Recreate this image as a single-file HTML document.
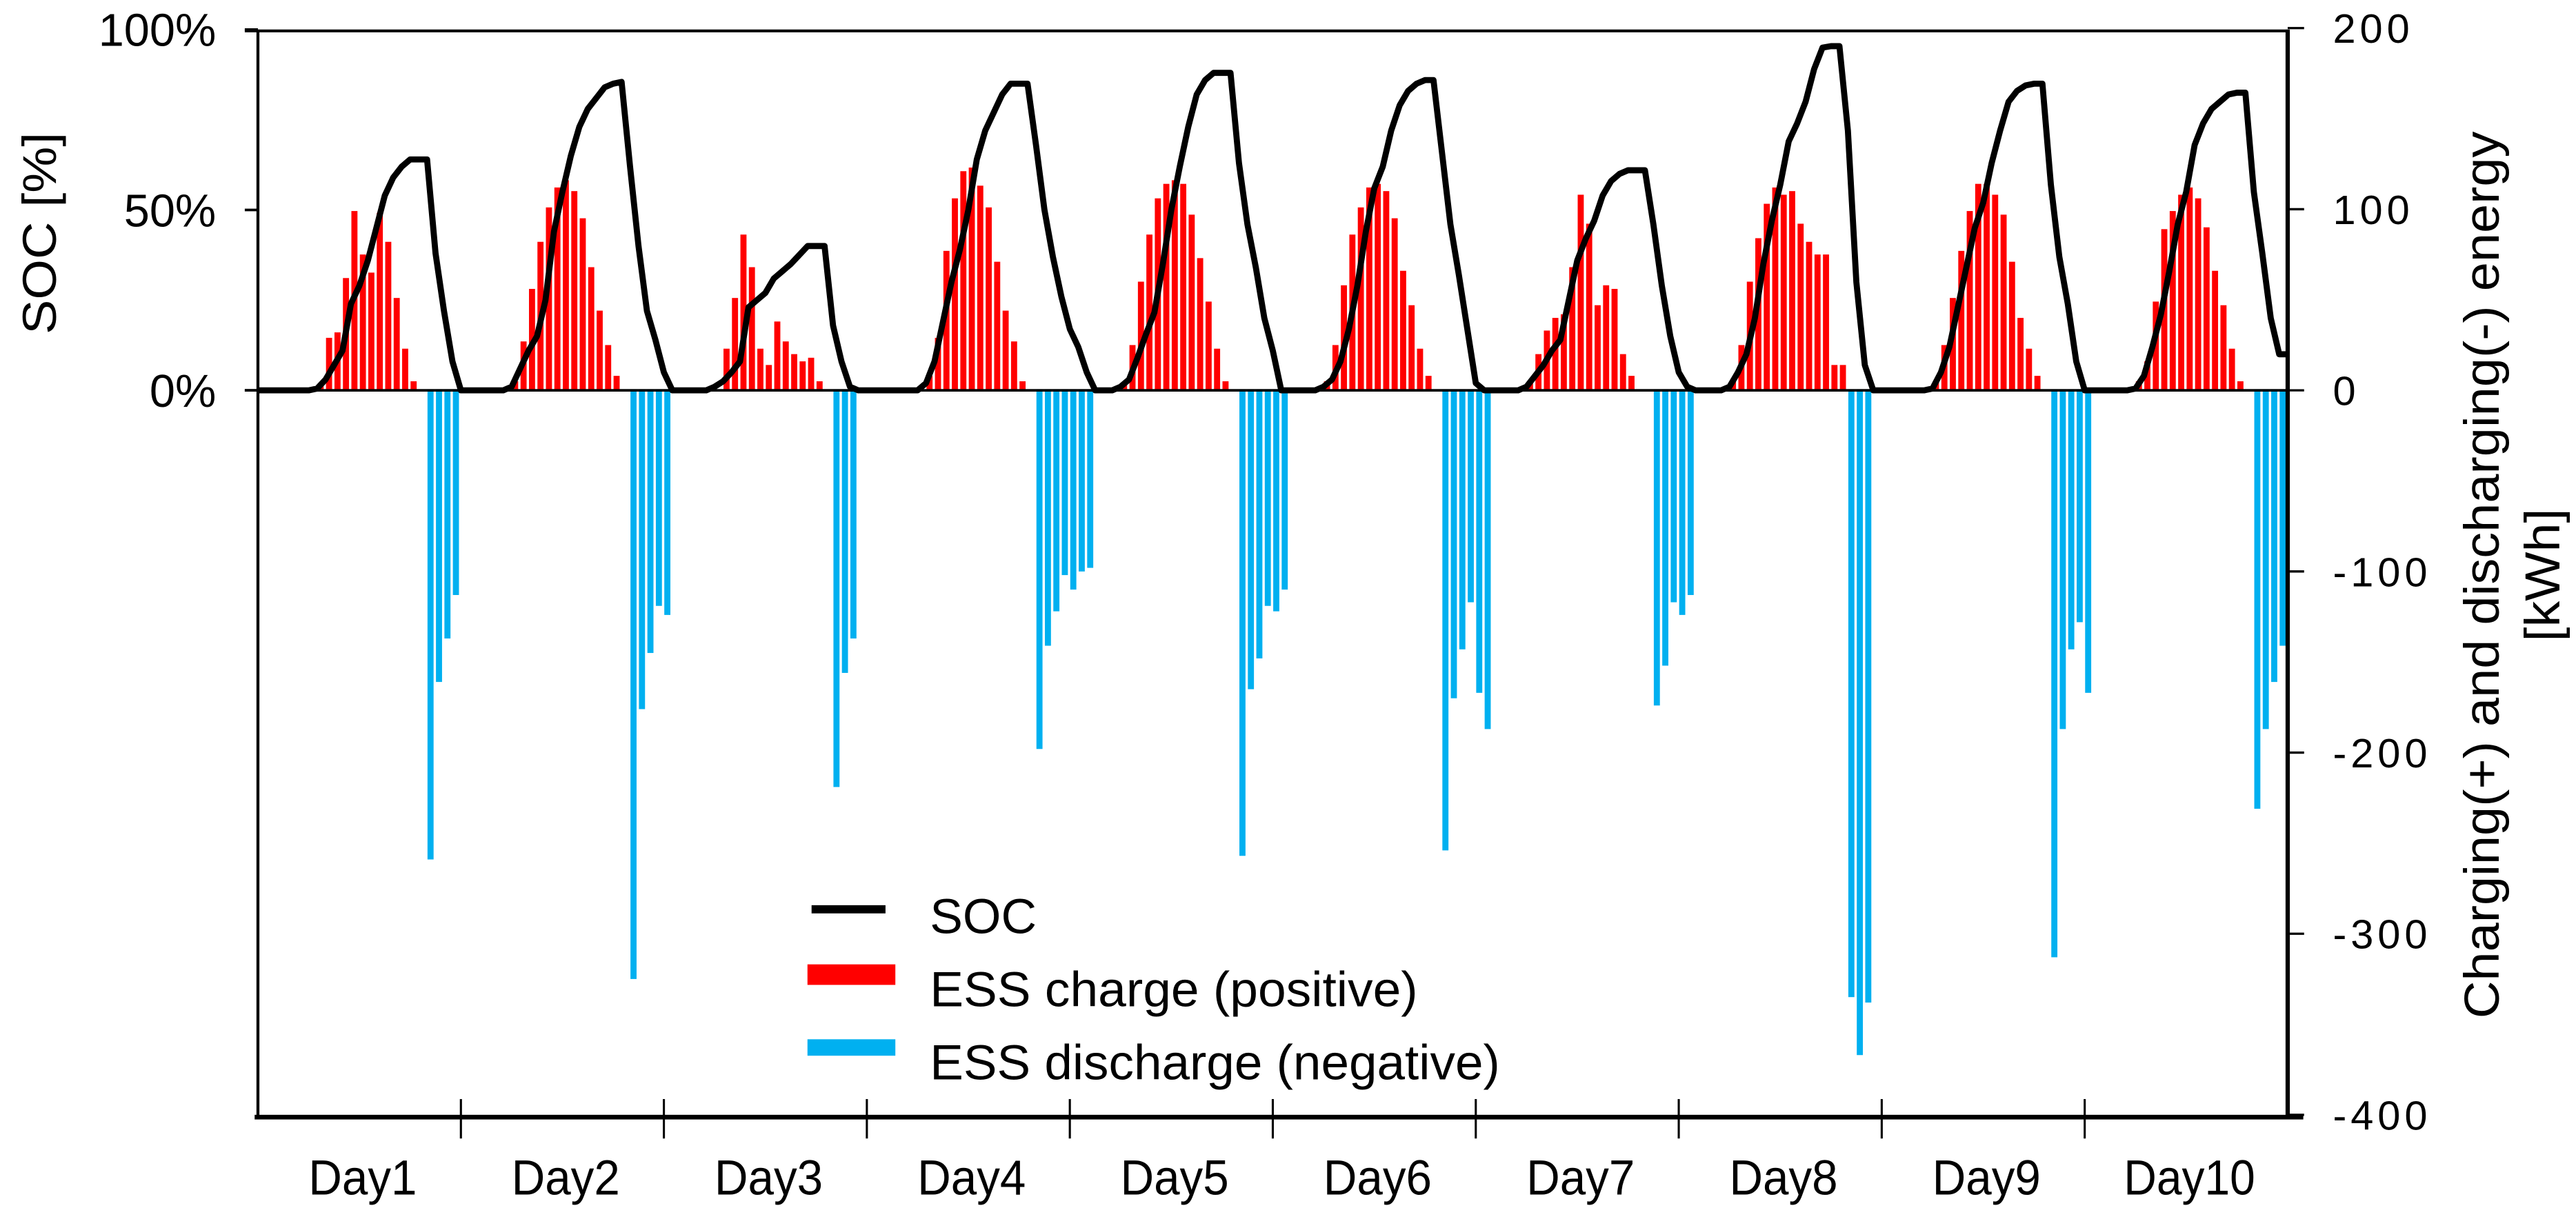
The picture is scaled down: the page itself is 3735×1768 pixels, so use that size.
<!DOCTYPE html>
<html><head><meta charset="utf-8"><title>ESS SOC chart</title>
<style>
html,body{margin:0;padding:0;background:#fff;}
svg{display:block;}
text{font-family:"Liberation Sans",Arial,sans-serif;fill:#000;}
</style></head>
<body>
<svg id="chart" xmlns="http://www.w3.org/2000/svg" width="3735" height="1768" viewBox="0 0 1568 742" preserveAspectRatio="none">
  <g id="bars"></g>
  <g id="axes"></g>
  <g id="socg"></g>
  <g id="legend">
    <line x1="494" y1="553.5" x2="539" y2="553.5" stroke="#000" stroke-width="5"/>
    <text x="566" y="568" font-size="30" textLength="65" lengthAdjust="spacingAndGlyphs">SOC</text>
    <rect x="491.5" y="587" width="53.5" height="12.5" fill="#ff0000"/>
    <text x="566" y="612.6" font-size="30" textLength="297" lengthAdjust="spacingAndGlyphs">ESS charge  (positive)</text>
    <rect x="491.5" y="632.6" width="53.5" height="10" fill="#00b0f0"/>
    <text x="566" y="657" font-size="30" textLength="347" lengthAdjust="spacingAndGlyphs">ESS discharge  (negative)</text>
  </g>
  <text transform="translate(34,142) rotate(-90)" text-anchor="middle" font-size="29" textLength="123" lengthAdjust="spacingAndGlyphs">SOC [%]</text>
  <text transform="translate(1521,350) rotate(-90)" text-anchor="middle" font-size="30" textLength="540" lengthAdjust="spacingAndGlyphs">Charging(+)  and discharging(-)  energy</text>
  <text transform="translate(1558,350) rotate(-90)" text-anchor="middle" font-size="30" textLength="81" lengthAdjust="spacingAndGlyphs">[kWh]</text>
</svg>
<script>
// ---- data ----
const dayLabels = ["Day1","Day2","Day3","Day4","Day5","Day6","Day7","Day8","Day9","Day10"];
const socTicks = [0, 50, 100];
const energyTicks = [200, 100, 0, -100, -200, -300, -400];
// hourly charge (kWh), 24 per day
const chargeD1 = [0,0,0,0,0,0,0,3,29,32,62,99,75,65,98,82,51,23,5,0,0,0,0,0];
const chargeD2 = [0,0,0,0,0,0,5,27,56,82,101,112,116,110,95,68,44,25,8,0,0,0,0,0];
const chargeD3 = [0,0,0,0,0,0,0,23,51,86,68,23,14,38,27,20,16,18,5,0,0,0,0,0];
const chargeD4 = [0,0,0,0,0,0,0,8,29,77,106,121,123,113,101,71,44,27,5,0,0,0,0,0];
const chargeD5 = [0,0,0,0,0,0,3,25,60,86,106,114,116,114,97,73,49,23,5,0,0,0,0,0];
const chargeD6 = [0,0,0,0,0,0,5,25,58,86,101,112,114,110,95,66,47,23,8,0,0,0,0,0];
const chargeD7 = [0,0,0,0,0,0,5,20,33,40,42,68,108,92,47,58,56,20,8,0,0,0,0,0];
const chargeD8 = [0,0,0,0,0,0,5,25,60,84,103,112,108,110,92,82,75,75,14,14,0,0,0,0];
const chargeD9 = [0,0,0,0,0,0,5,25,51,77,99,114,114,108,97,71,40,23,8,0,0,0,0,0];
const chargeD10 = [0,0,0,0,0,0,5,16,49,89,99,108,112,106,90,66,47,23,5,0,0,0,0,0];
// hourly discharge (kWh, negative), 24 per day
const dischD1 = [0,0,0,0,0,0,0,0,0,0,0,0,0,0,0,0,0,0,0,0,-259,-161,-137,-113];
const dischD2 = [0,0,0,0,0,0,0,0,0,0,0,0,0,0,0,0,0,0,0,0,-325,-176,-145,-119];
const dischD3 = [-124,0,0,0,0,0,0,0,0,0,0,0,0,0,0,0,0,0,0,0,-219,-156,-137,0];
const dischD4 = [0,0,0,0,0,0,0,0,0,0,0,0,0,0,0,0,0,0,0,0,-198,-141,-122,-102];
const dischD5 = [-110,-100,-98,0,0,0,0,0,0,0,0,0,0,0,0,0,0,0,0,0,-257,-165,-148,-119];
const dischD6 = [-122,-110,0,0,0,0,0,0,0,0,0,0,0,0,0,0,0,0,0,0,-254,-170,-143,-117];
const dischD7 = [-167,-187,0,0,0,0,0,0,0,0,0,0,0,0,0,0,0,0,0,0,0,-174,-152,-117];
const dischD8 = [-124,-113,0,0,0,0,0,0,0,0,0,0,0,0,0,0,0,0,0,0,-335,-367,-338,0];
const dischD9 = [0,0,0,0,0,0,0,0,0,0,0,0,0,0,0,0,0,0,0,0,-313,-187,-143,-128];
const dischD10 = [-167,0,0,0,0,0,0,0,0,0,0,0,0,0,0,0,0,0,0,0,-231,-187,-161,-141];
// hourly SOC (%), 24 per day
const socD1 = [0,0,0,0,0,0,0,0.5,3,7,11,24,29,36,45,54,59,62,64,64,64,38,22,8];
const socD2 = [0,0,0,0,0,0,1,6,11,15,25,44,55,65,73,78,81,84,85,85.5,62,40,22,14];
const socD3 = [5,0,0,0,0,0,1,2.5,5,8,23,25,27,31,33,35,37.5,40,40,40,18,8,1,0];
const socD4 = [0,0,0,0,0,0,0,2,8,19,30,39,50,64,72,77,82,85,85,85,68,50,37,26];
const socD5 = [17,12,5,0,0,0,1,3,9,15.5,21.6,35,50,62,73,82,86,88,88,88,63,46,34,20];
const socD6 = [11,0,0,0,0,0,1,3,8,17,29,44,56,62,72,79,83,85,86,86,66,46,32,17];
const socD7 = [2,0,0,0,0,0,1,4,7,11,14,25,36,42,47,54,58,60,61,61,61,46,29,15];
const socD8 = [5,1,0,0,0,0,1,5,10,20,35,47,57,69,74,80,89,95,95.4,95.4,72,30,7,0];
const socD9 = [0,0,0,0,0,0,0.5,5,12,23,34,45,52,63,72,80,83,84.5,85,85,57,37,24,8];
const socD10 = [0,0,0,0,0,0,0.5,4,12,21,33,46,55,68,74,78,80,82,82.5,82.5,55,38,20,10];
const socEnd = [10];

const charge = [].concat(chargeD1,chargeD2,chargeD3,chargeD4,chargeD5,chargeD6,chargeD7,chargeD8,chargeD9,chargeD10);
const discharge = [].concat(dischD1,dischD2,dischD3,dischD4,dischD5,dischD6,dischD7,dischD8,dischD9,dischD10);
const soc = [].concat(socD1,socD2,socD3,socD4,socD5,socD6,socD7,socD8,socD9,socD10,socEnd);

// ---- scales ----
const NS = "http://www.w3.org/2000/svg";
const X0 = 157, X1 = 1392.5, HOURS = 240;
const hw = (X1 - X0) / HOURS;
function xH(h){ return X0 + h * hw; }
function yE(v){ return 237.6 - v * 1.1025; }
function yS(p){ return 237.6 - p * 2.196; }
function mk(tag, attrs, parent){
  const el = document.createElementNS(NS, tag);
  for (const k in attrs) el.setAttribute(k, attrs[k]);
  parent.appendChild(el);
  return el;
}
const barsG = document.getElementById('bars');
const axesG = document.getElementById('axes');
const socG = document.getElementById('socg');

// bars
charge.forEach((v, i) => {
  if (!v) return;
  const r = mk('rect', {x: xH(i) + 0.05*hw, y: yE(v), width: 0.72*hw, height: yE(0) - yE(v), fill: '#ff0000'}, barsG);
  
  
});
discharge.forEach((v, i) => {
  if (!v) return;
  const r = mk('rect', {x: xH(i) + 0.05*hw, y: yE(0), width: 0.72*hw, height: yE(v) - yE(0), fill: '#00b0f0'}, barsG);
  
  
});

// axes
function line(x1,y1,x2,y2,w,name){
  const l = mk('line', {x1:x1,y1:y1,x2:x2,y2:y2,stroke:'#000','stroke-width':w}, axesG);
  
  
  return l;
}
line(149, 18.8, X1, 18.8, 1.7, 'top-border');
line(X0, 18, X0, 681, 1.8, 'left-axis-line');
line(X1, 18, X1, 681, 2.6, 'right-axis-line');
line(155, 680, 1402, 680, 2.8, 'x-axis-line');
line(149, yE(0), X1, yE(0), 1.6, 'zero-line');
socTicks.forEach(t => {
  const y = yS(t);
  line(149, y, X0, y, 1.6, 'left-tick');
  const tx = mk('text', {x: 131.5, y: y + 10, 'font-size': 28, 'text-anchor': 'end'}, axesG);
  tx.textContent = t + '%';
  
  
});
energyTicks.forEach(t => {
  const y = yE(t);
  line(X1, y, 1402.5, y, 1.4, 'right-tick');
  const tx = mk('text', {x: 1420, y: y + 9, 'font-size': 25, 'letter-spacing': 2.5}, axesG);
  tx.textContent = t < 0 ? '-' + Math.abs(t) : String(t);
  
  
});
dayLabels.forEach((d, i) => {
  if (i > 0) line(xH(i*24), 669, xH(i*24), 693, 1.3, 'day-tick');
  const tx = mk('text', {x: xH(i*24 + 12) + 2, y: 727, 'font-size': 30, 'text-anchor': 'middle', textLength: d.length > 4 ? 80 : 66, lengthAdjust: 'spacingAndGlyphs'}, axesG);
  tx.textContent = d;
  
  
});

// SOC line
const pts = soc.map((p, i) => xH(i).toFixed(2) + ',' + yS(p).toFixed(2)).join(' ');
const pl = mk('polyline', {points: pts, fill: 'none', stroke: '#000', 'stroke-width': 3.7, 'stroke-linejoin': 'round', 'stroke-linecap': 'butt'}, socG);


</script>
</body></html>
